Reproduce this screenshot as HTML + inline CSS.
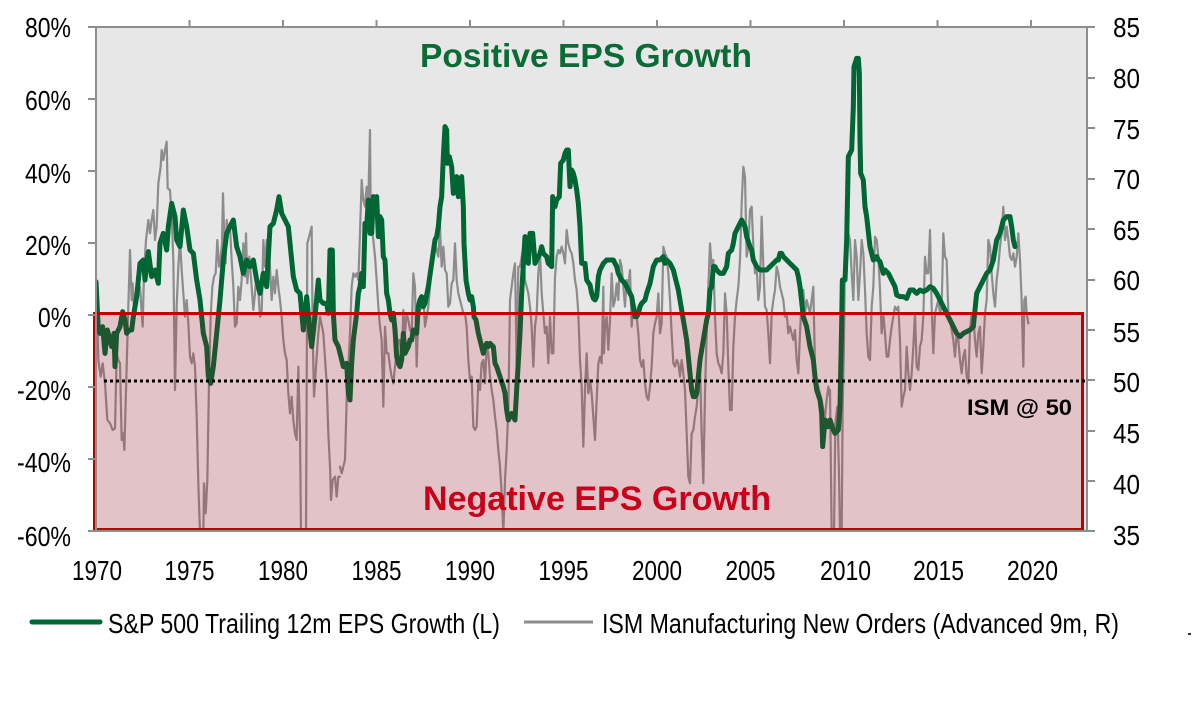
<!DOCTYPE html>
<html>
<head>
<meta charset="utf-8">
<style>
  html,body{margin:0;padding:0;background:#ffffff;}
  svg{display:block;}
  text{font-family:"Liberation Sans", Arial, sans-serif;}
</style>
</head>
<body>
<svg width="1194" height="708" viewBox="0 0 1194 708" xmlns="http://www.w3.org/2000/svg">
  <defs>
    <clipPath id="plot">
      <rect x="96" y="27" width="991" height="504"/>
    </clipPath>
  </defs>

  <!-- plot background -->
  <rect x="96" y="27" width="991" height="504" fill="#e7e7e7"/>

  <g clip-path="url(#plot)" fill="none" stroke-linejoin="round" stroke-linecap="round">
    <!-- ISM gray series -->
    <g stroke="#8c8c8c" stroke-width="2.2">
      <polyline vector-effect="non-scaling-stroke" transform="translate(90,100) scale(0.33333)" points="20,600 25,780 32,830 38,790 45,850 52,960 60,970 68,990 75,985 80,760 85,780 90,790 95,1020 100,1000 103,1050 110,800 115,620 120,450 125,600 128,550 133,650 140,600 150,560 158,680 162,520 168,420 175,360 180,400 185,360 190,330 195,420 200,380 205,250 212,200 215,150 220,180 225,150 230,125 233,265 240,270 245,350 250,480 255,870 260,620 265,500 270,420 275,510 280,580 285,650 290,600 295,670 300,770 305,790 310,760 315,800 320,950 325,1150 330,1300 340,1300 342,1150 347,1240 352,1140 357,850 362,650 367,560 372,530 377,520 382,420 387,500 392,470 396,430 399,280 403,420 407,490 410,360 415,400 420,380 425,480 430,560 435,680 440,670 445,560 450,600 455,540 460,430 465,530 468,400 472,550 478,470 485,560 490,630 495,580 500,520 505,570 510,650 515,640 520,420 525,500 530,420 535,430 540,500 545,600 550,530 555,580 560,510 565,560 570,600 575,650 580,720 585,760 590,780 595,880 600,940 605,890 610,960 615,1000 620,1020 625,800 630,1000 633,1300 648,1300 652,430 660,400 665,380 668,700 672,890 678,800 685,700 690,650 700,700 710,850 715,1000 720,1100 723,1200 728,1140 735,1130 740,1190 745,1130 750,1130"/>
      <polyline vector-effect="non-scaling-stroke" transform="translate(340,100) scale(0.33333)" points="0,1100 5,1120 10,1100 15,1080 20,900 25,800 30,700 35,560 40,520 45,530 50,520 55,540 60,400 65,240 70,300 75,320 80,260 85,300 90,90 92,330 95,380 100,420 105,470 110,540 115,620 120,680 125,720 130,920 135,680 140,760 145,760 150,800 155,830 160,850 165,800 170,760 175,720 180,720 185,800 190,630 195,700 200,640 205,660 210,690 215,700 220,520 225,560 230,800 235,640 240,630 245,620 250,590 255,680 260,650 265,620 270,560 275,500 280,470 285,430 290,450 295,470 300,380 305,500 310,440 315,510 320,520 325,620 330,610 335,550 340,540 345,430 350,540 355,580 360,600 365,620 370,640 375,640 380,680 385,780 390,840 395,830 400,980 405,990 410,980 415,840 420,870 425,790 430,780 435,850 440,740 445,760 450,830 455,870 460,900 465,950 470,990 475,1050 480,1100 485,1180 490,1300 495,1140 500,1050 505,930 510,600 515,560 520,520 525,490 530,800 535,500 540,500 545,470 550,440 555,540 560,560 565,580 570,620 575,680 580,800 585,680 590,640 595,520 600,460 605,580 610,640 615,700 620,680 625,790 630,650 635,760 640,760 645,530 650,470 655,450 660,460 665,440 670,460 675,490 680,390 685,430 690,450 695,460 700,490 705,540 710,570 715,640 720,780 725,860 730,1040 735,870 740,760 745,880 750,850"/>
      <polyline vector-effect="non-scaling-stroke" transform="translate(590,100) scale(0.33333)" points="0,840 5,880 10,950 15,1020 20,900 25,790 30,770 35,790 40,560 42,760 45,680 50,650 55,750 60,660 65,520 70,620 75,600 80,550 85,600 90,480 95,500 100,560 105,620 110,540 115,560 120,510 125,680 130,600 135,620 140,650 145,700 150,780 155,800 160,780 165,850 170,890 175,900 180,860 185,800 190,700 195,670 200,650 205,580 210,700 215,670 220,440 225,460 230,470 235,520 240,600 245,700 250,790 255,800 260,780 265,790 270,830 275,780 280,820 285,870 290,1000 295,1130 300,1150 305,1000 310,990 315,950 320,920 325,860 330,800 335,1000 340,1150 345,880 350,700 355,560 360,430 365,500 370,480 375,650 380,760 385,790 390,800 395,820 400,760 405,580 410,640 415,800 420,930 425,930 430,740 435,650 440,600 445,560 450,480 455,310 460,200 465,230 470,470 475,440 480,330 485,320 490,440 495,520 500,500 505,600 510,560 515,350 520,500 525,620 530,630 535,700 540,790 545,640 550,600 555,570 560,500 565,520 570,560 575,580 580,600 585,650 590,640 595,700 600,680 605,700 610,720 615,690 620,780 625,820 630,700 635,600 640,570 645,640 650,600 655,620 660,640 665,600 670,560 675,800 680,840 685,860 690,880 695,900 700,930 705,950 710,900 715,860 720,890"/>
      <polyline vector-effect="non-scaling-stroke" transform="translate(830,40) scale(0.33333)" points="0,1050 5,1480 12,1480 16,1150 22,1100 27,1300 30,1480 35,1480 38,1100 42,900 45,650 50,600 55,580 60,600 65,700 70,780 75,600 80,650 85,780 90,700 95,600 100,640 105,750 110,880 115,950 120,960 125,800 130,740 135,590 140,600 145,650 150,750 155,880 160,820 165,880 170,950 175,950 180,900 185,860 190,830 195,800 200,810 205,800 210,900 215,1100 220,1070 225,1050 230,920 235,1000 240,1050 245,1000 250,920 255,820 260,980 265,990 270,920 275,900 280,830 285,650 290,700 295,700 300,570 305,800 310,940 315,820 320,800 325,780 330,820 335,800 340,580 345,650 350,660 355,820 360,840 365,870 370,900 375,950 380,880 385,900 390,960 395,1000 400,950 405,930 410,1010 415,1030 420,870 425,820 430,830 435,900 440,950 445,880 450,860 455,1000 460,920 465,820 470,780 475,600 480,620 485,700 490,760 495,800 500,720 505,680 510,620 515,580 520,500 525,600 530,560 535,600 540,650 545,660 550,640 555,680 560,650 565,580 570,660 575,780 580,980 583,780 587,770 590,820 595,850"/>
    </g>

    <!-- EPS green series -->
    <g stroke="#006633" stroke-width="5">
      <polyline vector-effect="non-scaling-stroke" transform="translate(90,100) scale(0.33333)" points="18,545 25,690 30,700 38,680 45,760 52,690 60,720 65,740 72,700 75,800 80,700 90,680 98,635 105,660 110,700 118,690 125,690 130,650 140,590 150,490 160,480 165,540 175,455 185,530 195,510 205,550 210,430 220,400 230,450 235,380 245,310 255,350 260,420 270,440 280,330 290,380 300,450 310,460 320,540 330,600 340,700 350,740 355,830 362,850 370,800 380,700 390,600 400,480 410,400 420,380 430,360 440,440 450,470 460,520 470,480 480,500 490,480 500,540 510,580 520,520 530,560 540,380 550,370 560,330 567,290 575,340 585,360 595,380 600,430 610,530 620,570 630,580 640,690 650,590 660,700 665,740 675,650 685,540 690,600 700,610 710,610 715,640 720,450 727,450 730,640 735,720 745,740 750,760"/>
      <polyline vector-effect="non-scaling-stroke" transform="translate(340,100) scale(0.33333)" points="0,760 10,800 20,790 25,880 30,900 35,790 40,720 45,680 50,640 55,580 60,560 65,520 70,560 75,370 80,380 85,300 90,400 95,400 100,290 105,320 110,290 115,410 120,350 125,360 130,470 135,480 140,580 145,600 150,640 155,660 160,640 165,690 170,770 175,790 180,800 185,780 190,700 195,760 200,750 205,740 210,720 215,720 220,690 230,700 235,620 240,600 245,590 250,620 255,610 265,560 275,490 285,420 290,410 295,380 300,320 305,290 310,170 315,80 320,90 322,190 328,170 335,200 340,280 345,240 350,230 355,290 360,240 365,230 370,320 372,430 378,540 385,580 390,600 395,590 400,620 402,650 408,660 415,700 420,720 425,740 430,760 435,740 440,730 445,740 450,730 460,740 465,790 470,800 480,830 490,860 495,880 500,930 505,960 510,950 515,940 520,950 525,960 530,870 540,700 545,580 555,410 565,490 570,400 578,400 585,490 590,480 600,460 605,440 610,460 620,470 625,490 635,500 638,290 645,320 650,300 658,290 662,190 670,180 675,160 680,150 685,150 690,260 695,210 700,220 705,240 710,270 715,310 720,380 725,490 735,490 740,540 750,555"/>
      <polyline vector-effect="non-scaling-stroke" transform="translate(590,100) scale(0.33333)" points="0,555 5,580 10,595 15,600 20,590 25,530 30,510 40,490 50,480 60,480 70,480 75,490 80,500 85,520 95,540 105,550 115,570 125,590 135,650 140,650 145,640 150,620 155,610 165,600 170,580 180,550 190,500 200,480 210,480 220,470 225,490 230,480 240,490 245,500 250,510 260,550 265,570 270,600 275,630 280,660 290,720 295,770 300,820 305,870 310,890 315,890 320,880 330,780 340,720 350,660 355,640 360,570 365,560 370,500 375,500 380,510 390,520 400,520 410,500 415,460 425,450 430,430 435,400 440,390 445,380 450,370 455,360 460,370 465,380 470,410 480,440 485,450 490,480 500,500 510,510 520,510 530,510 540,500 550,490 560,480 565,480 570,460 575,460 580,470 590,480 600,490 610,500 620,510 625,530 630,560 640,650 650,680 660,740 670,780 675,830 680,870 690,900 695,940 698,1040 705,960 710,980 715,980 720,960"/>
      <polyline vector-effect="non-scaling-stroke" transform="translate(830,40) scale(0.33333)" points="0,1140 10,1170 15,1180 25,1170 30,1100 35,850 37,720 45,720 50,600 55,350 65,330 70,200 72,80 80,55 85,55 88,100 90,300 92,400 100,420 105,500 110,530 120,620 125,640 130,660 140,650 145,660 150,665 160,700 165,690 175,700 185,720 195,740 200,765 210,770 220,770 230,775 240,750 250,750 260,760 270,750 280,755 290,750 300,740 310,745 320,760 330,780 340,800 345,810 350,820 360,840 370,860 380,880 390,890 400,880 410,875 420,870 430,860 440,760 450,740 460,720 470,700 480,690 490,660 500,600 510,580 520,540 530,530 540,530 545,560 550,600 555,620"/>
    </g>
  </g>

  <!-- negative region overlay -->
  <rect x="94.5" y="313.5" width="988" height="216" fill="rgba(200,0,30,0.15)" stroke="#c00000" stroke-width="3"/>

  <!-- ISM 50 dotted line -->
  <line x1="104" y1="381" x2="1087" y2="381" stroke="#000" stroke-width="3" stroke-dasharray="3,3"/>

  <!-- axes -->
  <g stroke="#8e8e8e" stroke-width="2" fill="none">
    <line x1="96" y1="27" x2="96" y2="531"/>
    <line x1="1087" y1="27" x2="1087" y2="531"/>
    <line x1="88" y1="27" x2="1095" y2="27"/>
    <line x1="88" y1="531" x2="1095" y2="531"/>
    <line x1="88" y1="99" x2="96" y2="99"/>
    <line x1="88" y1="171" x2="96" y2="171"/>
    <line x1="88" y1="243" x2="96" y2="243"/>
    <line x1="88" y1="315" x2="96" y2="315"/>
    <line x1="88" y1="387" x2="96" y2="387"/>
    <line x1="88" y1="459" x2="96" y2="459"/>
    <line x1="1087" y1="78" x2="1095" y2="78"/>
    <line x1="1087" y1="128" x2="1095" y2="128"/>
    <line x1="1087" y1="179" x2="1095" y2="179"/>
    <line x1="1087" y1="229" x2="1095" y2="229"/>
    <line x1="1087" y1="280" x2="1095" y2="280"/>
    <line x1="1087" y1="330" x2="1095" y2="330"/>
    <line x1="1087" y1="380" x2="1095" y2="380"/>
    <line x1="1087" y1="431" x2="1095" y2="431"/>
    <line x1="1087" y1="481" x2="1095" y2="481"/>
    <line x1="189.5" y1="20" x2="189.5" y2="27"/>
    <line x1="283" y1="20" x2="283" y2="27"/>
    <line x1="376.5" y1="20" x2="376.5" y2="27"/>
    <line x1="470" y1="20" x2="470" y2="27"/>
    <line x1="563.5" y1="20" x2="563.5" y2="27"/>
    <line x1="657" y1="20" x2="657" y2="27"/>
    <line x1="750.5" y1="20" x2="750.5" y2="27"/>
    <line x1="844" y1="20" x2="844" y2="27"/>
    <line x1="937.5" y1="20" x2="937.5" y2="27"/>
    <line x1="1031" y1="20" x2="1031" y2="27"/>
  </g>

  <!-- titles -->
  <text x="420" y="67" font-size="33" font-weight="bold" fill="#0b6a35" textLength="332" lengthAdjust="spacingAndGlyphs">Positive EPS Growth</text>
  <text x="423" y="510" font-size="34" font-weight="bold" fill="#c8001a" textLength="348" lengthAdjust="spacingAndGlyphs">Negative EPS Growth</text>
  <text x="967" y="415" font-size="22" font-weight="bold" fill="#000" textLength="105" lengthAdjust="spacingAndGlyphs">ISM @ 50</text>

  <!-- left axis labels -->
  <g font-size="28" fill="#000">
    <text x="25" y="37" textLength="46" lengthAdjust="spacingAndGlyphs">80%</text>
    <text x="25" y="110" textLength="46" lengthAdjust="spacingAndGlyphs">60%</text>
    <text x="25" y="183" textLength="46" lengthAdjust="spacingAndGlyphs">40%</text>
    <text x="25" y="255" textLength="46" lengthAdjust="spacingAndGlyphs">20%</text>
    <text x="38" y="327" textLength="33" lengthAdjust="spacingAndGlyphs">0%</text>
    <text x="17" y="400" textLength="54" lengthAdjust="spacingAndGlyphs">-20%</text>
    <text x="17" y="472" textLength="54" lengthAdjust="spacingAndGlyphs">-40%</text>
    <text x="17" y="546" textLength="54" lengthAdjust="spacingAndGlyphs">-60%</text>
  </g>

  <!-- right axis labels -->
  <g font-size="28" fill="#000">
    <text x="1113" y="37" textLength="27" lengthAdjust="spacingAndGlyphs">85</text>
    <text x="1113" y="88" textLength="27" lengthAdjust="spacingAndGlyphs">80</text>
    <text x="1113" y="139" textLength="27" lengthAdjust="spacingAndGlyphs">75</text>
    <text x="1113" y="189" textLength="27" lengthAdjust="spacingAndGlyphs">70</text>
    <text x="1113" y="240" textLength="27" lengthAdjust="spacingAndGlyphs">65</text>
    <text x="1113" y="290" textLength="27" lengthAdjust="spacingAndGlyphs">60</text>
    <text x="1113" y="342" textLength="27" lengthAdjust="spacingAndGlyphs">55</text>
    <text x="1113" y="392" textLength="27" lengthAdjust="spacingAndGlyphs">50</text>
    <text x="1113" y="443" textLength="27" lengthAdjust="spacingAndGlyphs">45</text>
    <text x="1113" y="494" textLength="27" lengthAdjust="spacingAndGlyphs">40</text>
    <text x="1113" y="545" textLength="27" lengthAdjust="spacingAndGlyphs">35</text>
  </g>

  <!-- x axis labels -->
  <g font-size="28" fill="#000">
    <text x="72" y="580" textLength="50" lengthAdjust="spacingAndGlyphs">1970</text>
    <text x="164.5" y="580" textLength="50" lengthAdjust="spacingAndGlyphs">1975</text>
    <text x="258" y="580" textLength="50" lengthAdjust="spacingAndGlyphs">1980</text>
    <text x="351.5" y="580" textLength="50" lengthAdjust="spacingAndGlyphs">1985</text>
    <text x="445" y="580" textLength="50" lengthAdjust="spacingAndGlyphs">1990</text>
    <text x="538.5" y="580" textLength="50" lengthAdjust="spacingAndGlyphs">1995</text>
    <text x="632" y="580" textLength="50" lengthAdjust="spacingAndGlyphs">2000</text>
    <text x="725.5" y="580" textLength="50" lengthAdjust="spacingAndGlyphs">2005</text>
    <text x="820" y="580" textLength="51" lengthAdjust="spacingAndGlyphs">2010</text>
    <text x="913" y="580" textLength="51" lengthAdjust="spacingAndGlyphs">2015</text>
    <text x="1007" y="580" textLength="51" lengthAdjust="spacingAndGlyphs">2020</text>
  </g>

  <!-- legend -->
  <line x1="32" y1="622" x2="100" y2="622" stroke="#006633" stroke-width="5" stroke-linecap="round"/>
  <text x="108" y="633" font-size="28" fill="#000" textLength="392" lengthAdjust="spacingAndGlyphs">S&amp;P 500 Trailing 12m EPS Growth (L)</text>
  <line x1="524" y1="622" x2="593" y2="622" stroke="#8c8c8c" stroke-width="3"/>
  <text x="602" y="633" font-size="28" fill="#000" textLength="517" lengthAdjust="spacingAndGlyphs">ISM Manufacturing New Orders (Advanced 9m, R)</text>
  <rect x="1188" y="633" width="3" height="2" fill="#333"/>
</svg>
</body>
</html>
